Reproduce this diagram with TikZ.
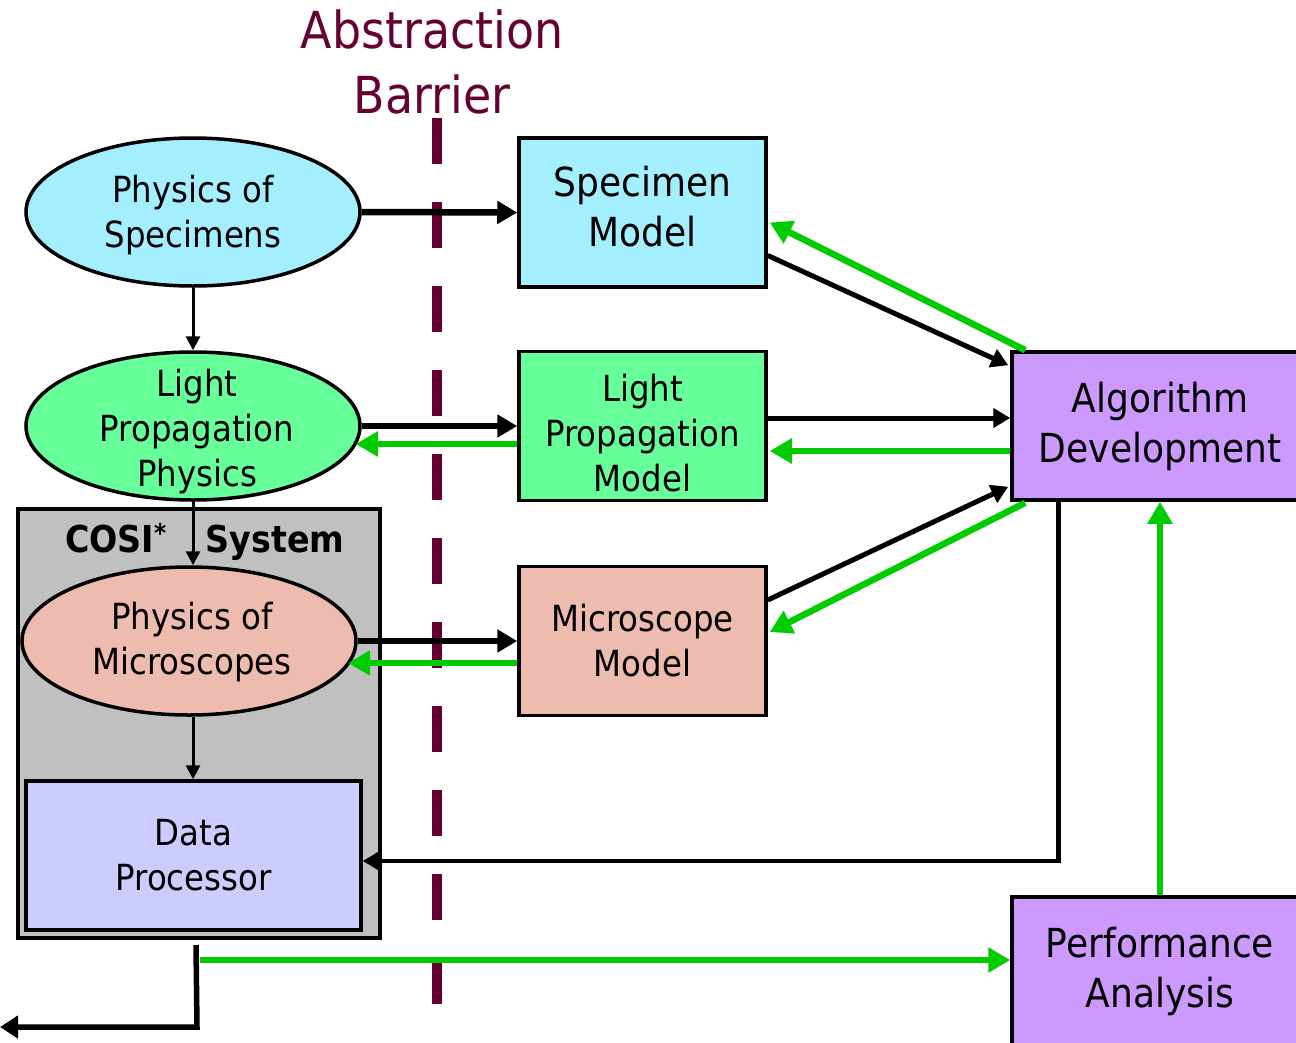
\documentclass[tikz,border=0pt]{standalone}
\usepackage{fontspec}
\setmainfont{DejaVu Sans}[FakeStretch=0.9]
\usetikzlibrary{arrows.meta,shapes.geometric,calc}
\definecolor{cyanf}{HTML}{A3EEFF}
\definecolor{greenf}{HTML}{66FF99}
\definecolor{salmonf}{HTML}{EEBBAF}
\definecolor{lavf}{HTML}{CCCCFF}
\definecolor{purf}{HTML}{CC99FF}
\definecolor{grayf}{HTML}{C0C0C0}
\definecolor{lgreen}{HTML}{00CC00}
\definecolor{maroon}{HTML}{660033}
\tikzset{
  ell/.style={ellipse, draw=black, line width=3.5pt, minimum width=334pt, minimum height=148pt, inner sep=0pt},
  txt/.style={align=center, inner sep=0pt, font=\fontsize{36}{45}\selectfont},
  box/.style={rectangle, draw=black, line width=3.5pt, minimum width=247pt, minimum height=149pt, inner sep=0pt, align=center, font=\fontsize{36}{45}\selectfont},
  bigbox/.style={box, minimum width=296pt, minimum height=148pt, fill=purf, font=\fontsize{40}{50}\selectfont},
  thickarr/.style={draw=black, line width=6.5pt, -{Triangle[length=20pt,width=22pt]}},
  medarr/.style={draw=black, line width=5pt, -{Triangle[length=17pt,width=19pt]}},
  thinarr/.style={draw=black, line width=3pt, -{Triangle[length=14pt,width=14pt]}},
  garr/.style={draw=lgreen, line width=6.5pt, -{Triangle[length=22pt,width=24pt]}},
}
\begin{document}
\begin{tikzpicture}[x=1pt,y=-1pt]
\clip (0,0) rectangle (1296,1042);
\fill[white] (0,0) rectangle (1296,1042);

% title and barrier
\node[text=maroon, align=center, font=\fontsize{51}{65}\selectfont] (title) at (432,62) {Abstraction\\Barrier};
\draw[maroon, line width=10pt, dash pattern=on 46pt off 38pt] (437,118) coordinate (barT) -- (437,1042) coordinate (barB);

% COSI system box
\node[rectangle, draw=black, line width=3.5pt, fill=grayf, minimum width=362pt, minimum height=429pt, inner sep=0pt] (cosi) at (199,723.5) {};
\node[font=\fontsize{37}{45}\selectfont\bfseries, anchor=base] (cosiA) at (116,552) {COSI\textsuperscript{*}};
\node[font=\fontsize{37}{45}\selectfont\bfseries, anchor=base] (cosiB) at (275,552) {System};

% left ellipses
\node[ell, fill=cyanf] (spec) at (193,212) {};
\node[txt] (spect) at (193,215) {Physics of\\Specimens};
\node[ell, fill=greenf] (lpp) at (193,426) {};
\node[txt] (lppt) at (197,432) {Light\\Propagation\\Physics};
\node[ell, fill=salmonf] (mic) at (189,641) {};
\node[txt] (mict) at (192,642) {Physics of\\Microscopes};
\node[box, fill=lavf, minimum width=335pt] (dp) at (193.5,855.5) {Data\\Processor};

% models
\node[box, fill=cyanf] (sm) at (642.5,212.5) {};
\node[txt, font=\fontsize{40}{50}\selectfont] (smt) at (642.5,207) {Specimen\\Model};
\node[box, fill=greenf] (lpm) at (642.5,426) {};
\node[txt] (lpmt) at (642.5,433) {Light\\Propagation\\Model};
\node[box, fill=salmonf] (mm) at (642.5,641) {Microscope\\Model};

% right boxes
\node[bigbox] (ad) at (1160,426) {Algorithm\\Development};
\node[bigbox] (pa) at (1160,971) {Performance\\Analysis};

% vertical thin arrows
\draw[thinarr] (spec.south) -- (lpp.north);
\draw[thinarr] (lpp.south) -- (lpp.south |- mic.north);
\draw[thinarr] (lpp.south |- mic.south) -- (lpp.south |- dp.north);

% physics -> models
\draw[thickarr] (spec.east) -- (sm.west);
\draw[thickarr] (lpp.east) -- (lpm.west);
\coordinate (g1) at ($(lpm.west)+(0,18)$);
\draw[garr] (g1) -- (g1 -| lpp.-7);
\draw[thickarr] (mic.east) -- (mm.west);
\coordinate (g2) at ($(mm.west)+(0,22)$);
\draw[garr] (g2) -- (g2 -| mic.-9);

% models <-> algorithm development
\draw[medarr] ($(sm.east)+(0,43)$) -- ($(ad.north west)+(-2,15)$);
\draw[garr] ($(ad.north west)+(15,0)$) -- ($(sm.east)+(2,10)$);
\draw[medarr] ($(lpm.east)+(0,-8)$) -- ($(ad.west)+(0,-8)$);
\draw[garr] ($(ad.west)+(0,25)$) -- ($(lpm.east)+(2,25)$);
\draw[medarr] ($(mm.east)+(0,-41)$) -- ($(ad.south west)+(-2,-15)$);
\draw[garr] ($(ad.south west)+(15,1)$) -- ($(mm.east)+(2,-9)$);

% algorithm development -> data processor
\draw[draw=black, line width=4.5pt, -{Triangle[length=17pt,width=19pt]}] ($(ad.south west)+(48,0)$) |- ($(dp.east)+(0,5.5)$);

% performance analysis -> algorithm development
\draw[garr] (pa.north) -- (ad.south);

% data processor output
\coordinate (gstart) at (200,960);
\draw[garr] (gstart) -- (gstart -| pa.west);
\coordinate (ostart) at (196,945);
\coordinate (ocorner) at (197,1027);
\coordinate (oend) at (0,1027);
\draw[draw=black, line width=5.5pt, -{Triangle[length=18pt,width=22pt]}] (ostart) -- (ocorner) -- (oend);
\end{tikzpicture}
\end{document}
